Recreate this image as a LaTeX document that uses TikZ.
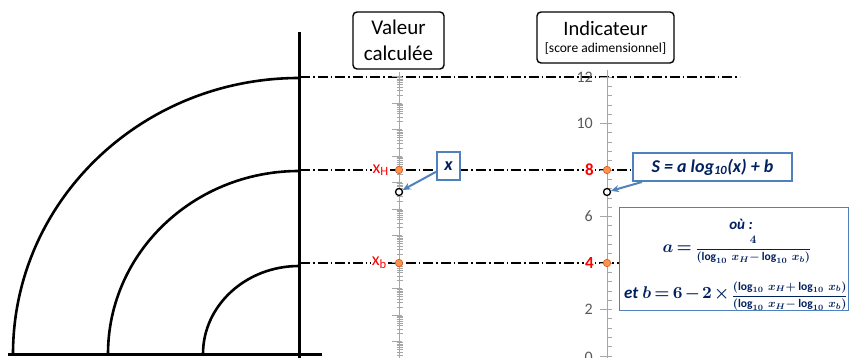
\documentclass[tikz,border=0pt]{standalone}
\usepackage{fontspec}
\setmainfont{Carlito}
\usetikzlibrary{arrows.meta,calc}
\definecolor{navy}{HTML}{002060}
\definecolor{boxblue}{HTML}{4F81BD}
\definecolor{axgray}{HTML}{A6A6A6}
\definecolor{numgray}{HTML}{595959}
\definecolor{dotorange}{HTML}{F79646}
\definecolor{dotedge}{HTML}{E2502A}
\newcommand{\myfrac}[2]{\scalebox{0.68}{$\displaystyle\frac{#1}{#2}$}}
\newcommand{\mylog}[1]{\log_{10}\,x_{#1}}
\newcommand{\myfa}{$\thickmuskip=3mu\medmuskip=2mu a=\myfrac{4}{(\mylog{H}{-}\mylog{b})}$}
\newcommand{\myfb}{\textbf{\textit{et}}~$\thickmuskip=3mu\medmuskip=2mu b=6-2\times\myfrac{(\mylog{H}{+}\mylog{b})}{(\mylog{H}{-}\mylog{b})}$}
\tikzset{
  thickline/.style={line width=2.6pt, black},
  dashdot/.style={line width=1.1pt, black, dash pattern=on 10pt off 3pt on 1.6pt off 3pt},
  titlebox/.style={draw, line width=1.4pt, rounded corners=4pt, align=center, inner sep=2pt},
  bluebox/.style={draw=boxblue, line width=2pt, fill=white, text=navy, inner sep=2pt,
     font=\fontsize{18}{22}\selectfont\bfseries\itshape},
  axisline/.style={axgray, line width=1pt},
  odot/.style={circle, draw=dotedge, fill=dotorange, line width=0.6pt, minimum size=7.5pt, inner sep=0pt},
  wdot/.style={circle, draw=black, fill=white, line width=1.3pt, minimum size=7pt, inner sep=0pt},
  redlab/.style={text=red, fill=white, inner sep=1pt, font=\fontsize{18}{18}\selectfont},
  rednum/.style={text=red, fill=white, inner sep=1pt, font=\fontsize{17}{17}\selectfont\bfseries},
  graynum/.style={text=numgray, inner sep=1pt, font=\fontsize{16}{16}\selectfont},
  formula/.style={text=navy, inner sep=1pt, font=\normalsize\mathversion{bold}},
  arr/.style={boxblue, line width=2pt, -{Stealth[length=8pt,width=7pt]}}
}
\begin{document}
\begin{tikzpicture}[x=1pt,y=-1pt]
\useasboundingbox (0,0) rectangle (850,358);
% arcs and frame
\draw[thickline] (13,354) arc[start angle=180, end angle=270, x radius=286, y radius=276];
\draw[thickline] (108,354) arc[start angle=180, end angle=270, x radius=191, y radius=183];
\draw[thickline] (203,354) arc[start angle=180, end angle=270, x radius=96, y radius=88];
\draw[line width=3pt] (299,32) -- (299,360);
\draw[line width=3pt] (8,354) -- (322,354);
% dash-dot lines
\draw[dashdot] (300,77) -- (740,77);
\draw[dashdot] (300,170) -- (633,170);
\draw[dashdot] (300,263) -- (619,263);
% log axis (valeur calculee)
\draw[axisline] (399,72) -- (399,360);
\foreach \k in {0,...,10}{
  \pgfmathsetmacro{\yy}{76.5+26.5*\k}
  \draw[axisline, line width=0.8pt] (392,\yy) -- (402,\yy);
  \foreach \m in {2,...,9}{
    \pgfmathsetmacro{\ym}{\yy+26.5-26.5*ln(\m)/ln(10)}
    \draw[axisline, line width=0.6pt] (396.5,\ym) -- (402.5,\ym);
  }
}
% linear axis (indicateur)
\draw[axisline] (607,70) -- (607,360);
\foreach \v in {0,...,30}{
  \pgfmathsetmacro{\yy}{356-23.25*0.4*\v}
  \draw[axisline, line width=0.7pt] (607,\yy) -- (612,\yy);
}
\foreach \v in {0,2,...,12}{
  \pgfmathsetmacro{\yy}{356-23.25*\v}
  \draw[axisline, line width=0.8pt] (600,\yy) -- (607,\yy);
}
\node[graynum, anchor=east] (n12) at (594,77) {12};
\node[graynum, anchor=east] (n10) at (594,123.5) {10};
\node[graynum, anchor=east] (n6) at (594,216.5) {6};
\node[graynum, anchor=east] (n2) at (594,309.5) {2};
\node[graynum, anchor=east] (n0) at (594,357) {0};
\node[rednum, anchor=east] (n8) at (595,170) {8};
\node[rednum, anchor=east] (n4) at (595,263) {4};
% labels on log axis
\node[redlab, anchor=east] (xH) at (390,170) {x\textsubscript{H}};
\node[redlab, anchor=east] (xb) at (388,263) {x\textsubscript{b}};
% dots
\node[odot] (d1) at (399,170) {};
\node[odot] (d2) at (399,263) {};
\node[wdot] (c1) at (399,192) {};
\node[odot] (d3) at (607,170) {};
\node[odot] (d4) at (607,263) {};
\node[wdot] (c2) at (607,192) {};
% title boxes
\node[titlebox, minimum width=91pt, minimum height=57pt, font=\fontsize{21}{26}\selectfont] (val) at (398.5,40.5) {Valeur\\calculée};
\node[titlebox, minimum width=137pt, minimum height=51pt, font=\fontsize{20.5}{24}\selectfont] (ind) at (605.5,37.5) {Indicateur\\[-7pt]{\fontsize{13.5}{15}\selectfont [score adimensionnel]}};
% blue boxes
\node[bluebox, minimum width=23pt, minimum height=28pt] (xbox) at (448.5,166) {x};
\node[bluebox, minimum width=159pt, minimum height=28pt] (sbox) at (712.5,167) {S = a log\textsubscript{10}(x) + b};
\draw[arr] (xbox.205) -- (c1);
\draw[arr] (sbox.192) -- (c2);
% formula box
\draw[boxblue, line width=0.9pt, fill=white] (619,207) rectangle (848,310);
\node[text=navy, inner sep=1pt, font=\fontsize{15}{15}\selectfont\bfseries\itshape] (ou) at (741,224) {où~:};
\node[formula] (fa) at (737,250) {\scalebox{1.7}{\myfa}};
\node[formula, anchor=east] (fb) at (849,296) {\scalebox{1.7}{\myfb}};
\end{tikzpicture}
\end{document}
